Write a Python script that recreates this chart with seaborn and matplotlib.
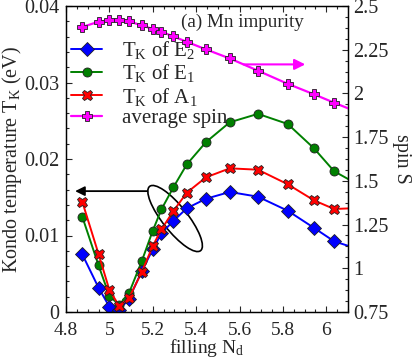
import numpy as np
import pandas as pd
import seaborn as sns
import matplotlib.pyplot as plt
import matplotlib.transforms as mtransforms
from matplotlib.patches import Ellipse
from matplotlib.ticker import MultipleLocator, AutoMinorLocator
from matplotlib.lines import Line2D

# filling N_d (last point lies just past the right edge of the frame)
filling = [4.875, 4.95, 5.0, 5.045, 5.09, 5.15, 5.2, 5.24, 5.295, 5.357,
           5.445, 5.555, 5.685, 5.822, 5.943, 6.036, 6.15]

tk_e2 = [0.00754, 0.00318, 0.00069, 0.00026, 0.0017, 0.00536, 0.0082, 0.0103,
         0.0119, 0.01356, 0.0148, 0.01569, 0.01507, 0.01324, 0.0110, 0.00924, 0.0082]
tk_e1 = [0.01246, 0.0061, 0.00209, 0.00092, 0.00244, 0.0067, 0.01063, 0.01342,
         0.0163, 0.0193, 0.0222, 0.0248, 0.0259, 0.02458, 0.0214, 0.0184, 0.0166]
tk_a1 = [0.01442, 0.00758, 0.00288, 0.0008, 0.0018, 0.00527, 0.00863, 0.0108,
         0.0132, 0.0156, 0.0176, 0.01878, 0.0186, 0.0167, 0.0146, 0.01346, 0.0136]
spin = [2.38, 2.41, 2.419, 2.419, 2.412, 2.389, 2.368, 2.353, 2.326, 2.295,
        2.252, 2.20, 2.13, 2.055, 1.995, 1.947, 1.89]

labels = [r'T$_\mathrm{K}$ of E$_2$', r'T$_\mathrm{K}$ of E$_1$',
          r'T$_\mathrm{K}$ of A$_1$', 'average spin']

df = pd.DataFrame({'filling': filling, 'E2': tk_e2, 'E1': tk_e1, 'A1': tk_a1, 'spin': spin})

sns.set_style('ticks')
plt.rcParams['font.family'] = ['Liberation Serif', 'DejaVu Serif']
plt.rcParams['mathtext.fontset'] = 'custom'
plt.rcParams['mathtext.rm'] = 'Liberation Serif'
plt.rcParams['mathtext.it'] = 'Liberation Serif:italic'
plt.rcParams['font.size'] = 14

fig = plt.figure(figsize=(4.15, 3.61), dpi=100)
ax = fig.add_axes([66 / 415, 1 - 312 / 361, (348 - 66) / 415, (312 - 6) / 361])
ax2 = ax.twinx()

styles = [('E2', '#0000ff', 'D', 7), ('E1', '#008000', 'o', 6.5), ('A1', '#ff0000', 'X', 7.5)]
for col, c, m, ms in styles:
    sns.lineplot(data=df, x='filling', y=col, color=c, marker=m, markersize=ms,
                 markeredgecolor='#202020', markeredgewidth=0.6, linewidth=1.4, ax=ax)
sns.lineplot(data=df, x='filling', y='spin', color='#ff00ff', marker='P', markersize=7.5,
             markeredgecolor='#202020', markeredgewidth=0.6, linewidth=1.6, ax=ax2)

ax.set_xlim(4.8, 6.1)
ax.set_ylim(0, 0.04)
ax2.set_ylim(0.75, 2.5)
ax.xaxis.set_minor_locator(MultipleLocator(0.05))
ax.yaxis.set_minor_locator(AutoMinorLocator(5))
ax2.yaxis.set_minor_locator(AutoMinorLocator(4))
ax.set_xticks([4.8, 5, 5.2, 5.4, 5.6, 5.8, 6])
ax.set_xticklabels(['4.8', '5', '5.2', '5.4', '5.6', '5.8', '6'])
ax.set_yticks([0, 0.01, 0.02, 0.03, 0.04])
ax.set_yticklabels(['0', '0.01', '0.02', '0.03', '0.04'])
ax2.set_yticks([0.75, 1, 1.25, 1.5, 1.75, 2, 2.25, 2.5])
ax2.set_yticklabels(['0.75', '1', '1.25', '1.5', '1.75', '2', '2.25', '2.5'])

ax.tick_params(axis='x', which='both', direction='in', top=True)
ax.tick_params(axis='y', which='both', direction='in', right=False)
ax2.tick_params(axis='y', which='both', direction='in')
for a in (ax, ax2):
    a.tick_params(which='major', length=4.5, width=0.8, pad=4, labelsize=14.5)
    a.tick_params(which='minor', length=2.5, width=0.8)
    for s in a.spines.values():
        s.set_linewidth(0.9)
        s.set_color('black')
ax.tick_params(axis='x', pad=7, labelsize=14)
ax.tick_params(axis='y', pad=5)

ax.set_xlabel(r'filling N$_\mathrm{d}$', fontsize=14, labelpad=-1)
ax.set_ylabel(r'Kondo temperature T$_\mathrm{K}$ (eV)', fontsize=14.5, labelpad=0)
ax2.set_ylabel('spin S', fontsize=14.5, rotation=270, labelpad=16)

ax.text(0.408, 0.945, '(a) Mn impurity', transform=ax.transAxes, fontsize=13.8,
        ha='left', va='center')

handles = [Line2D([], [], color=c, marker=m, markersize=ms, markeredgecolor='#202020',
                  markeredgewidth=0.6, linewidth=1.4) for _, c, m, ms in styles]
handles.append(Line2D([], [], color='#ff00ff', marker='P', markersize=7.5,
                      markeredgecolor='#202020', markeredgewidth=0.6, linewidth=1.6))
ax.legend(handles, labels, loc='upper left', bbox_to_anchor=(-0.012, 0.918), frameon=False,
          fontsize=15, handlelength=1.5, handletextpad=0.95, labelspacing=0.05,
          borderaxespad=0)

# arrows pointing to the axes each group belongs to
ax.annotate('', xy=(4.842, 0.0158), xytext=(5.174, 0.0158),
            arrowprops=dict(arrowstyle='-|>', color='black', lw=1.3,
                            mutation_scale=14, shrinkA=0, shrinkB=0))
ax2.annotate('', xy=(5.903, 2.166), xytext=(5.618, 2.166),
             arrowprops=dict(arrowstyle='-|>', color='#ff00ff', lw=1.5,
                             mutation_scale=16, shrinkA=0, shrinkB=0))
trans = fig.dpi_scale_trans + mtransforms.ScaledTranslation(5.303, 0.01222, ax.transData)
ax.add_patch(Ellipse((0, 0), 0.82, 0.25, angle=-51.6, transform=trans,
                     fill=False, edgecolor='black', lw=1.2))

fig.savefig('out.png', dpi=100)
